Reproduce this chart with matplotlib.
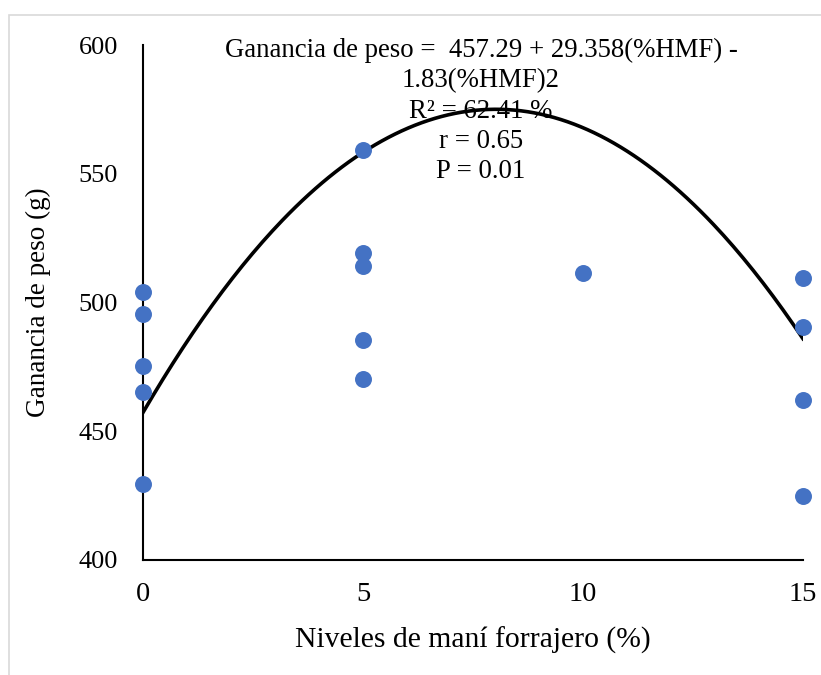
import matplotlib
matplotlib.use('Agg')
import matplotlib.pyplot as plt
import numpy as np
from matplotlib.patches import Rectangle

plt.rcParams['font.family'] = ['Liberation Serif', 'DejaVu Serif']

# niveles de mani forrajero (%) y ganancia de peso (g)
nivel = [0, 0, 0, 0, 0,
         5, 5, 5, 5, 5,
         10,
         15, 15, 15, 15]
ganancia = [504.2, 495.5, 475.3, 465.4, 429.4,
            559.2, 519.3, 514.3, 485.4, 470.3,
            511.3,
            509.4, 490.4, 462.1, 425.0]

# coeficientes del ajuste cuadratico
coef_a = 457.29
coef_b = 29.358
coef_c = 1.83

texto_eq = ["Ganancia de peso =  457.29 + 29.358(%HMF) -",
            "1.83(%HMF)2",
            "R² = 62.41 %",
            "r = 0.65",
            "P = 0.01"]

x_ticks = [0, 5, 10, 15]
y_ticks = [400, 450, 500, 550, 600]

fig = plt.figure(figsize=(8.21, 6.75), dpi=100)
ax = fig.add_axes([143 / 821, 1 - 560 / 675, 660 / 821, 515 / 675])

# borde gris del grafico
fig.patches.append(Rectangle((9 / 821, -0.05), 1.1, 1 - 15 / 675 + 0.05,
                             transform=fig.transFigure, fill=False,
                             edgecolor='#d9d9d9', linewidth=1.2))

xs = np.linspace(0, 15, 200)
ys = coef_a + coef_b * xs - coef_c * xs ** 2
ax.plot(xs, ys, color='black', linewidth=2.6, zorder=2)
ax.scatter(nivel, ganancia, s=125, color='#4472c4', zorder=3, clip_on=False)

ax.set_xlim(0, 15)
ax.set_ylim(400, 600)
ax.set_xticks(x_ticks)
ax.set_yticks(y_ticks)
ax.tick_params(axis='both', length=0)
ax.tick_params(axis='x', labelsize=20.5, pad=16)
ax.tick_params(axis='y', labelsize=19, pad=18)
for s in ['top', 'right']:
    ax.spines[s].set_visible(False)
for s in ['left', 'bottom']:
    ax.spines[s].set_linewidth(1.5)

ax.set_xlabel("Niveles de maní forrajero (%)", fontsize=21.3, labelpad=14)
ax.set_ylabel("Ganancia de peso (g)", fontsize=19.5, labelpad=20)

y_txt = 50
for t in texto_eq:
    fig.text(481 / 821, 1 - y_txt / 675, t, ha='center', va='center', fontsize=19.3)
    y_txt += 30.5

fig.savefig('out.png', dpi=100)
